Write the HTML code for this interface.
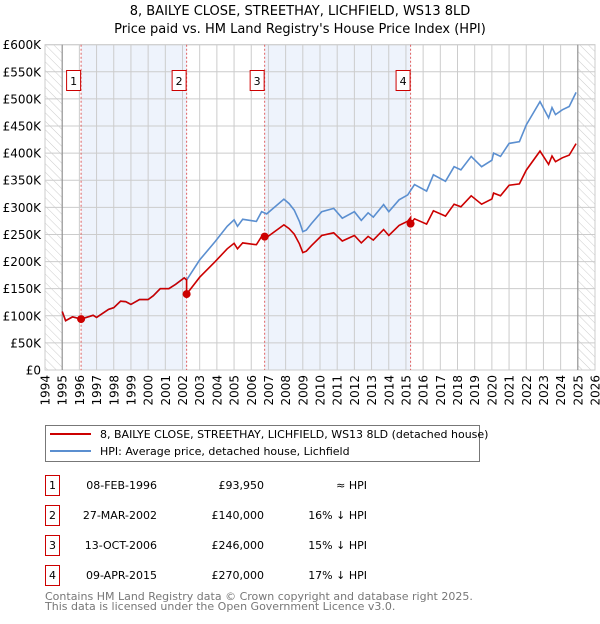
<!DOCTYPE html>
<html><head><meta charset="utf-8"><style>
body{margin:0;background:#fff;font-family:"DejaVu Sans","Liberation Sans",sans-serif;}
svg text{font-family:"DejaVu Sans","Liberation Sans",sans-serif;}
</style></head><body>
<svg id="chart" width="600" height="620" viewBox="0 0 600 620">
<defs><pattern id="hatch" width="6" height="6" patternUnits="userSpaceOnUse" patternTransform="rotate(-45)"><line x1="0" y1="0" x2="0" y2="6" stroke="#ccc" stroke-width="1"/></pattern></defs>
<text x="300" y="15" text-anchor="middle" font-size="13">8, BAILYE CLOSE, STREETHAY, LICHFIELD, WS13 8LD</text>
<text x="300" y="33" text-anchor="middle" font-size="13">Price paid vs. HM Land Registry's House Price Index (HPI)</text>
<g id="plot"></g>
<g>
<rect x="45.5" y="425.5" width="434" height="36" fill="#fff" stroke="#777"/>
<line x1="50" y1="434" x2="91" y2="434" stroke="#cc0000" stroke-width="2"/>
<text x="100" y="438" font-size="11">8, BAILYE CLOSE, STREETHAY, LICHFIELD, WS13 8LD (detached house)</text>
<line x1="50" y1="451" x2="91" y2="451" stroke="#5b8fd0" stroke-width="2"/>
<text x="100" y="455" font-size="11">HPI: Average price, detached house, Lichfield</text>
</g>
<g id="table" font-size="11"></g>
<text x="45" y="600" font-size="11" fill="#777">Contains HM Land Registry data © Crown copyright and database right 2025.</text>
<text x="45" y="610" font-size="11" fill="#777">This data is licensed under the Open Government Licence v3.0.</text>
</svg>
<script>
const hpiYears=[1995.0,1995.2,1995.6,1996.1,1996.8,1997.0,1997.7,1998.0,1998.4,1998.7,1999.0,1999.5,2000.0,2000.3,2000.7,2001.2,2001.6,2002.1,2002.24,2003.0,2003.9,2004.6,2005.0,2005.2,2005.5,2006.3,2006.6,2006.9,2007.9,2008.2,2008.5,2008.8,2009.0,2009.2,2009.5,2010.1,2010.8,2011.3,2012.0,2012.4,2012.8,2013.1,2013.7,2014.0,2014.6,2015.1,2015.5,2016.2,2016.6,2017.3,2017.8,2018.2,2018.8,2019.4,2020.0,2020.1,2020.5,2021.0,2021.6,2022.0,2022.8,2023.3,2023.5,2023.7,2024.1,2024.5,2024.9];
const hpiValues=[108,91,98,94,101,97,112,115,127,126,121,130,130,137,150,150,158,170,166,203,237,265,277,265,278,274,292,288,315,307,295,274,255,258,270,292,298,280,292,276,290,282,305,292,314,323,342,330,360,348,375,369,394,375,387,400,394,418,421,452,495,465,484,471,480,486,512];
const saleDates=[1996.1,2002.24,2006.78,2015.27];
const salePrices=[93950,140000,246000,270000];
const saleLabels=["1","2","3","4"];
const saleDateText=["08-FEB-1996","27-MAR-2002","13-OCT-2006","09-APR-2015"];
const salePriceText=["£93,950","£140,000","£246,000","£270,000"];
const saleHpiText=["≈ HPI","16% ↓ HPI","15% ↓ HPI","17% ↓ HPI"];
const yTicks=[0,50,100,150,200,250,300,350,400,450,500,550,600];
const yTickLabels=["£0","£50K","£100K","£150K","£200K","£250K","£300K","£350K","£400K","£450K","£500K","£550K","£600K"];
const xTicks=[1994,1995,1996,1997,1998,1999,2000,2001,2002,2003,2004,2005,2006,2007,2008,2009,2010,2011,2012,2013,2014,2015,2016,2017,2018,2019,2020,2021,2022,2023,2024,2025,2026];

const NS="http://www.w3.org/2000/svg";
const L=45,R=595,T=44.7,B=370;
const xs=y=>L+(y-1994)/32*(R-L);
const ys=v=>B-v/600*(B-T);
function mk(tag,attrs,parent){const e=document.createElementNS(NS,tag);for(const k in attrs)e.setAttribute(k,attrs[k]);parent.appendChild(e);return e;}
function hpiAt(t){for(let i=0;i<hpiYears.length-1;i++){if(t>=hpiYears[i]&&t<=hpiYears[i+1]){const f=(t-hpiYears[i])/(hpiYears[i+1]-hpiYears[i]);return hpiValues[i]+f*(hpiValues[i+1]-hpiValues[i]);}}return hpiValues[hpiValues.length-1];}
const plot=document.getElementById('plot');
mk('rect',{x:L,y:T,width:xs(1995)-L,height:B-T,fill:'url(#hatch)'},plot);
mk('rect',{x:xs(2025),y:T,width:R-xs(2025),height:B-T,fill:'url(#hatch)'},plot);
[[0,1],[2,3]].forEach(p=>{const r=mk('rect',{x:xs(saleDates[p[0]]),y:T,width:xs(saleDates[p[1]])-xs(saleDates[p[0]]),height:B-T,fill:'#eef3fc'},plot);

});
yTicks.forEach((v,i)=>{mk('line',{x1:L,x2:R,y1:ys(v),y2:ys(v),stroke:'#ccc'},plot);
const t=mk('text',{x:L-4,y:ys(v)+4.5,'text-anchor':'end','font-size':12},plot);t.textContent=yTickLabels[i];

});
xTicks.forEach(y=>{mk('line',{x1:xs(y),x2:xs(y),y1:T,y2:B,stroke:'#ccc'},plot);
const t=mk('text',{x:0,y:0,'text-anchor':'end','font-size':12,transform:`translate(${xs(y)+4.5},375) rotate(-90)`},plot);t.textContent=y;

});
mk('rect',{x:L,y:T,width:R-L,height:B-T,fill:'none',stroke:'#ccc'},plot);
mk('line',{x1:xs(1995),x2:xs(1995),y1:T,y2:B,stroke:'#888'},plot);
mk('line',{x1:xs(2025),x2:xs(2025),y1:T,y2:B,stroke:'#888'},plot);
saleDates.forEach((d,i)=>{const l=mk('line',{x1:xs(d),x2:xs(d),y1:T,y2:B,stroke:'#e06060','stroke-dasharray':'2,2'},plot);

});
// HPI line
let pts=hpiYears.map((y,i)=>xs(y).toFixed(1)+','+ys(hpiValues[i]).toFixed(1)).join(' ');
const hl=mk('polyline',{points:pts,fill:'none',stroke:'#5b8fd0','stroke-width':1.6},plot);


// property line: HPI scaled from each sale
let rp=[];
for(let s=0;s<saleDates.length;s++){
 const start=s===0?hpiYears[0]:saleDates[s];
 const end=s<saleDates.length-1?saleDates[s+1]:hpiYears[hpiYears.length-1];
 const ratio=salePrices[s]/1000/hpiAt(saleDates[s]);
 const ts=[start].concat(hpiYears.filter(y=>y>start&&y<end)).concat([end]);
 ts.forEach((t,k)=>{const last=(k===ts.length-1&&s<saleDates.length-1);rp.push(xs(t).toFixed(1)+','+ys(hpiAt(t)*ratio).toFixed(1));});
}
const pl=mk('polyline',{points:rp.join(' '),fill:'none',stroke:'#cc0000','stroke-width':1.6},plot);


saleDates.forEach((d,i)=>{const c=mk('circle',{cx:xs(d),cy:ys(salePrices[i]/1000),r:4,fill:'#cc0000'},plot);


const g=mk('g',{},plot);


mk('rect',{x:xs(d)-14.5,y:70.5,width:14,height:20,fill:'#fff',stroke:'#cc0000'},g);
const t=mk('text',{x:xs(d)-7.5,y:85,'text-anchor':'middle','font-size':11},g);t.textContent=saleLabels[i];});
// table
const tb=document.getElementById('table');
saleDates.forEach((d,i)=>{const cy=483+30*i;
const g=mk('g',{},tb);


mk('rect',{x:45.5,y:cy-7.5,width:14,height:20,fill:'#fff',stroke:'#cc0000'},g);
let t=mk('text',{x:52.5,y:cy+6,'text-anchor':'middle'},g);t.textContent=saleLabels[i];
t=mk('text',{x:157,y:cy+6,'text-anchor':'end'},g);t.textContent=saleDateText[i];
t=mk('text',{x:264,y:cy+6,'text-anchor':'end'},g);t.textContent=salePriceText[i];
t=mk('text',{x:367,y:cy+6,'text-anchor':'end'},g);t.textContent=saleHpiText[i];});
</script>
</body></html>
